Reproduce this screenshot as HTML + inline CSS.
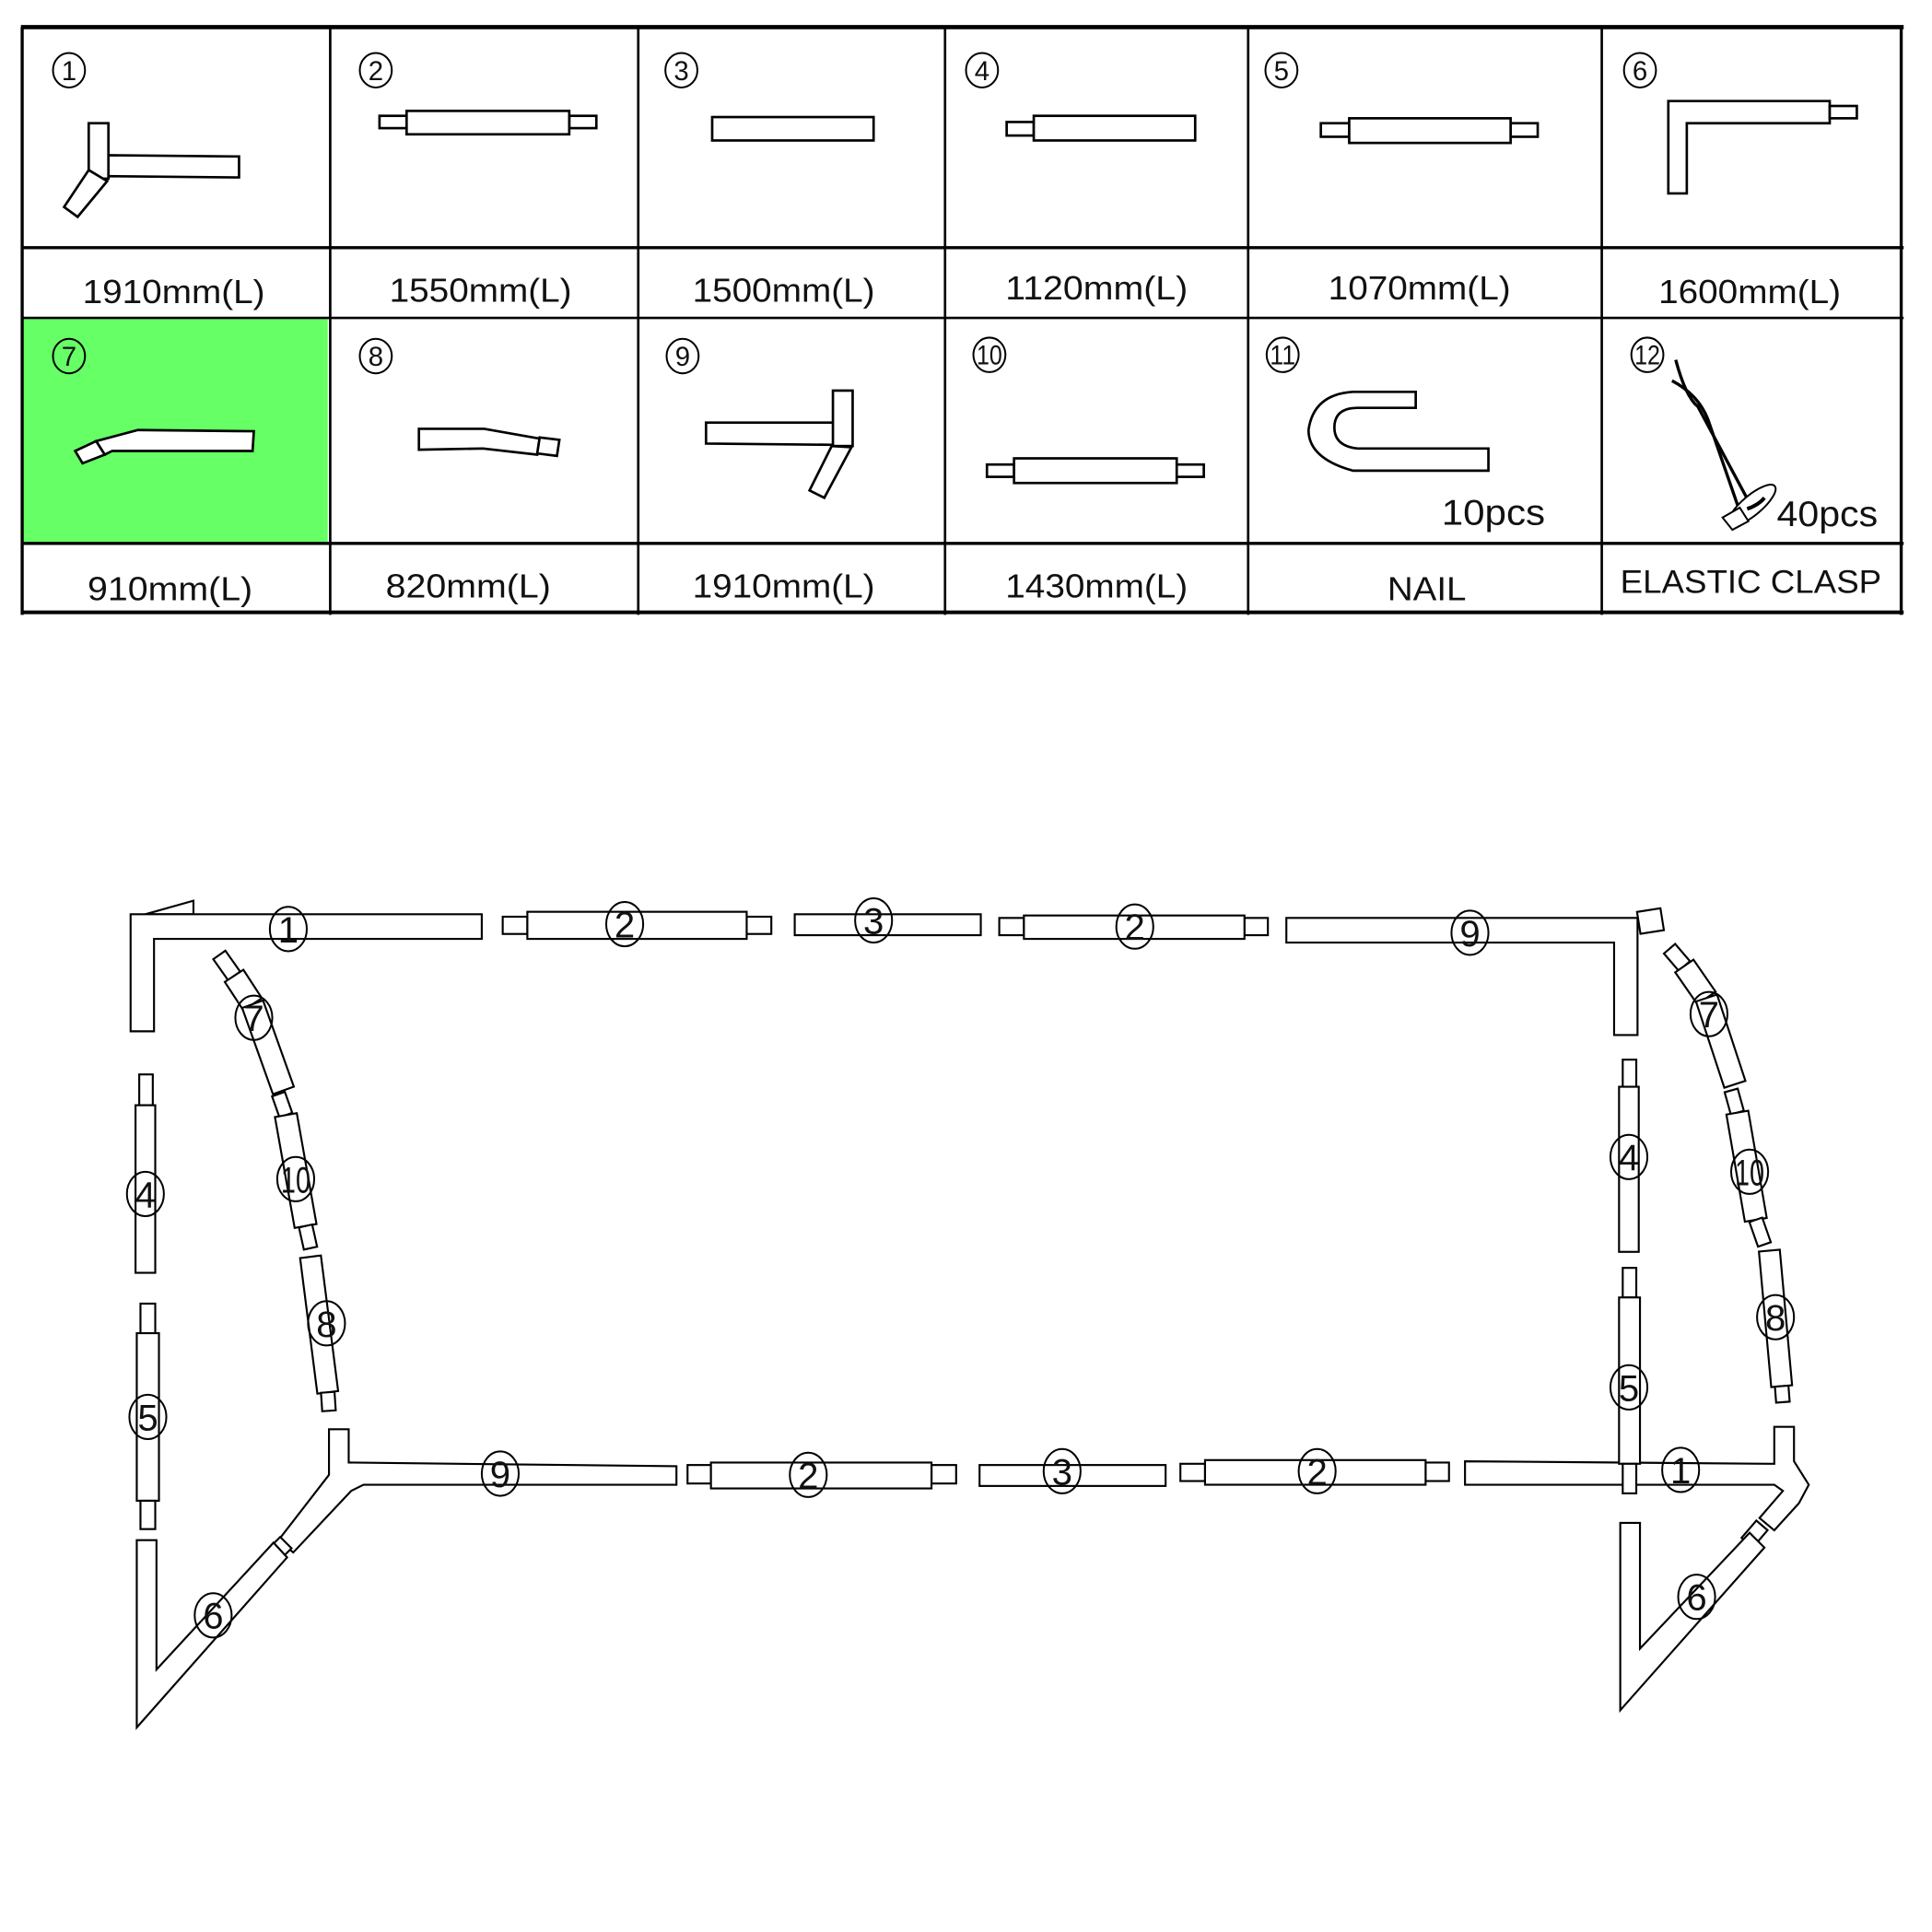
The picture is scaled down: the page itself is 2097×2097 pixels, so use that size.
<!DOCTYPE html>
<html><head><meta charset="utf-8"><style>
html,body{margin:0;padding:0;background:#fff}
svg{display:block}
text{font-family:"Liberation Sans",sans-serif;fill:#111}
</style></head><body>
<svg id="s" width="2097" height="2097" viewBox="0 0 1568 1568" xmlns="http://www.w3.org/2000/svg">
<rect width="1568" height="1568" fill="#fff"/>
<rect x="19" y="259" width="247" height="182" fill="#66ff66"/>
<g stroke="#000" fill="none">
<line x1="17" y1="22" x2="1545" y2="22" stroke-width="3.5"/>
<line x1="17" y1="201" x2="1545" y2="201" stroke-width="2.5"/>
<line x1="17" y1="258" x2="1545" y2="258" stroke-width="2"/>
<line x1="17" y1="441" x2="1545" y2="441" stroke-width="2.5"/>
<line x1="17" y1="497" x2="1545" y2="497" stroke-width="3"/>
<line x1="18" y1="22" x2="18" y2="499" stroke-width="2.5"/>
<line x1="268" y1="22" x2="268" y2="499" stroke-width="2"/>
<line x1="518" y1="22" x2="518" y2="499" stroke-width="2"/>
<line x1="767" y1="22" x2="767" y2="499" stroke-width="2"/>
<line x1="1013" y1="22" x2="1013" y2="499" stroke-width="2"/>
<line x1="1300" y1="22" x2="1300" y2="499" stroke-width="2"/>
<line x1="1543" y1="22" x2="1543" y2="499" stroke-width="2.5"/>
</g>
<g stroke="#000" stroke-width="2" fill="#fff">
<polyline points="88,126 194,127 194,144 88,143" fill="none"/>
<rect x="72" y="100" width="16" height="45"/>
<polygon points="72,138 87,147 63,176 52,168"/>
<rect x="308" y="94" width="22" height="10"/><rect x="462" y="94" width="22" height="10"/><rect x="330" y="90" width="132" height="19"/>
<rect x="578" y="95" width="131" height="19"/>
<rect x="817" y="99" width="22" height="11"/><rect x="839" y="94" width="131" height="20"/>
<rect x="1072" y="100" width="23" height="11"/><rect x="1226" y="100" width="22" height="11"/><rect x="1095" y="96" width="131" height="20"/>
<polygon points="1354,82 1485,82 1485,100 1369,100 1369,157 1354,157"/>
<rect x="1485" y="86" width="22" height="10"/>
<polygon points="78,358 112,349 206,350 205,366 91,366 85,369"/>
<polygon points="61,366 78,358 85,369 67,376"/>
<polygon points="340,348 393,348 438,356 436,369 392,364 340,365"/>
<polygon points="438,355 454,357 452,370 436,368"/>
<polyline points="676,343 573,343 573,360 676,361" fill="none"/>
<rect x="676" y="317" width="16" height="45"/>
<polygon points="675,362 691,363 669,404 657,398"/>
<rect x="801" y="377" width="22" height="10"/><rect x="955" y="377" width="22" height="10"/><rect x="823" y="372" width="132" height="20"/>
<path d="M1098,318 L1149,318 L1149,331 L1102,331 Q1083,331 1083,347 Q1083,362 1102,364 L1208,364 L1208,382 L1098,382 Q1062,372 1062,349 Q1066,320 1098,318 Z"/>
</g>
<g stroke="#000" fill="none">
<path d="M1360,292 Q1368,322 1378,330 L1423,414" stroke-width="2.5"/>
<path d="M1357,309 Q1378,320 1386,340 L1413,418" stroke-width="2.5"/>
<ellipse cx="1422" cy="410" rx="24" ry="8" transform="rotate(-40 1422 410)" fill="#fff" stroke-width="1.5"/>
<path d="M1418,413 Q1427,410 1432,404" stroke-width="3"/>
<polygon points="1398,420 1412,412 1419,423 1406,430" fill="#fff" stroke-width="1.5"/>
</g>
<g font-size="27" text-anchor="middle" lengthAdjust="spacingAndGlyphs">
<text x="141" y="246" textLength="148" lengthAdjust="spacingAndGlyphs">1910mm(L)</text>
<text x="390" y="245" textLength="148" lengthAdjust="spacingAndGlyphs">1550mm(L)</text>
<text x="636" y="245" textLength="148" lengthAdjust="spacingAndGlyphs">1500mm(L)</text>
<text x="890" y="243" textLength="148" lengthAdjust="spacingAndGlyphs">1120mm(L)</text>
<text x="1152" y="243" textLength="148" lengthAdjust="spacingAndGlyphs">1070mm(L)</text>
<text x="1420" y="246" textLength="148" lengthAdjust="spacingAndGlyphs">1600mm(L)</text>
<text x="138" y="487" textLength="134" lengthAdjust="spacingAndGlyphs">910mm(L)</text>
<text x="380" y="485" textLength="134" lengthAdjust="spacingAndGlyphs">820mm(L)</text>
<text x="636" y="485" textLength="148" lengthAdjust="spacingAndGlyphs">1910mm(L)</text>
<text x="890" y="485" textLength="148" lengthAdjust="spacingAndGlyphs">1430mm(L)</text>
<text x="1158" y="487" textLength="64" lengthAdjust="spacingAndGlyphs">NAIL</text>
<text x="1421" y="481" font-size="26" textLength="212" lengthAdjust="spacingAndGlyphs">ELASTIC CLASP</text>
<text x="1212" y="426" font-size="29" textLength="84" lengthAdjust="spacingAndGlyphs">10pcs</text>
<text x="1483" y="427" font-size="29" textLength="82" lengthAdjust="spacingAndGlyphs">40pcs</text>
</g>
<g id="circ"></g>
<g id="pipes" stroke="#000" stroke-width="1.6" fill="#fff"></g>
<g id="lab"></g>
</svg>
<script>
var NS="http://www.w3.org/2000/svg";
function el(p,t,a,txt){var e=document.createElementNS(NS,t);for(var k in a){if(a[k]!==null)e.setAttribute(k,a[k]);}if(txt)e.textContent=txt;document.getElementById(p).appendChild(e);return e;}
function circ(g,x,y,n,rx,ry,fs){el(g,"ellipse",{cx:x,cy:y,rx:rx,ry:ry,fill:"none",stroke:"#000","stroke-width":1.5});el(g,"text",{x:x,y:y+fs*0.36,"font-size":fs,"text-anchor":"middle",textLength:n.length>1?rx*1.6:null,lengthAdjust:"spacingAndGlyphs"},n);}
[[56,57,"1"],[305,57,"2"],[553,57,"3"],[797,57,"4"],[1040,57,"5"],[1331,57,"6"],[56,289,"7"],[305,289,"8"],[554,289,"9"],[803,288,"10"],[1041,288,"11"],[1337,288,"12"]].forEach(function(c){circ("circ",c[0],c[1],c[2],13,14,22);});
function R(x,y,w,h){el("pipes","rect",{x:x,y:y,width:w,height:h});}
function P(pts){el("pipes","polygon",{points:pts});}
function T(x1,y1,x2,y2,w){var dx=x2-x1,dy=y2-y1,L=Math.hypot(dx,dy),nx=-dy/L*w/2,ny=dx/L*w/2;P([x1+nx,y1+ny,x2+nx,y2+ny,x2-nx,y2-ny,x1-nx,y1-ny].join(","));}
P("118,742 157,731 157,742");
P("106,742 391,742 391,762 125,762 125,837 106,837");
R(408,744,20,14);R(606,744,20,14);R(428,740,178,22);
R(645,742,151,17);
R(811,745,20,14);R(1010,745,19,14);R(831,743,179,19);
P("1044,745 1329,745 1329,840 1310,840 1310,765 1044,765");
T(1330,749,1349,746,18);
R(113,872,11,25);R(110,897,16,136);
R(114,1058,12,24);R(111,1082,18,136);R(114,1218,12,23);
T(178,775,190,792,12);T(190,792,205,815,18);T(205,815,230,885,18);
T(226,888,232,905,11);T(232,905,248,995,18);T(248,995,252,1013,11);
T(252,1020,266,1130,17);T(266,1130,267,1145,11);
P("283,1187 549,1190 549,1205 295,1205 285,1210 238,1260 226,1250 267,1197 267,1160 283,1160");
T(232,1252,222,1262,13);
P("111,1250 127,1250 127,1355 222,1252 233,1264 111,1402");
R(558,1189,19,15);R(756,1189,20,15);R(577,1187,179,21);
R(795,1189,151,17);
R(958,1188,20,14);R(1157,1187,19,15);R(978,1185,179,20);
P("1189,1186 1440,1188 1440,1158 1456,1158 1456,1186 1468,1205 1460,1220 1440,1242 1428,1232 1447,1210 1440,1205 1189,1205");
T(1430,1238,1418,1252,12);
P("1315,1236 1331,1236 1331,1338 1420,1244 1432,1256 1315,1388");
R(1317,860,11,22);R(1314,882,16,134);
R(1317,1029,11,24);R(1314,1053,17,135);R(1317,1188,11,24);
T(1355,770,1367,784,12);T(1367,784,1385,810,18);T(1385,810,1408,880,18);
T(1405,885,1410,903,11);T(1410,903,1425,990,18);T(1425,990,1432,1010,11);
T(1436,1015,1446,1125,17);T(1446,1125,1447,1138,11);
[[234,754,"1"],[507,750,"2"],[709,747,"3"],[921,752,"2"],[1193,757,"9"],[206,826,"7"],[240,957,"10"],[265,1074,"8"],[118,969,"4"],[120,1150,"5"],[406,1196,"9"],[656,1197,"2"],[862,1194,"3"],[1069,1194,"2"],[1364,1193,"1"],[173,1311,"6"],[1377,1296,"6"],[1322,939,"4"],[1322,1126,"5"],[1387,823,"7"],[1420,951,"10"],[1441,1069,"8"]].forEach(function(c){circ("lab",c[0],c[1],c[2],15,18,30);});
</script>
</body></html>
